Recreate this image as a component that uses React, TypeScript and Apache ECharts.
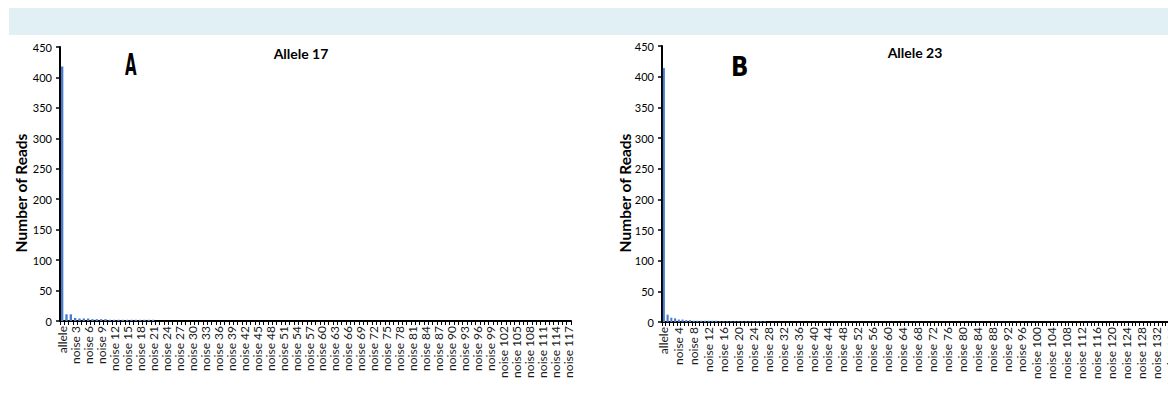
import React, { useEffect, useRef } from "react";
import * as echarts from "echarts";

// Panel A: Allele 17 — number of reads for the allele and noise 1..117
const allele17Reads = [
  418, 11, 11, 5, 4, 4, 4, 3, 3, 3, 3, 2, 2, 2, 2, 2, 2, 2, 2, 2, 2, 2,
  0, 0, 0, 0, 0, 0, 0, 0, 0, 0, 0, 0, 0, 0, 0, 0, 0, 0, 0, 0, 0, 0, 0, 0,
  0, 0, 0, 0, 0, 0, 0, 0, 0, 0, 0, 0, 0, 0, 0, 0, 0, 0, 0, 0, 0, 0, 0, 0,
  0, 0, 0, 0, 0, 0, 0, 0, 0, 0, 0, 0, 0, 0, 0, 0, 0, 0, 0, 0, 0, 0, 0, 0,
  0, 0, 0, 0, 0, 0, 0, 0, 0, 0, 0, 0, 0, 0, 0, 0, 0, 0, 0, 0, 0, 0, 0, 0,
];

// Panel B: Allele 23 — number of reads for the allele and noise 1..136
const allele23Reads = [
  414, 12, 7, 6, 4, 4, 3, 3, 2, 2, 2, 2, 2, 2, 2,
  1, 1, 1, 1, 1, 1, 1, 1, 1, 1, 1, 1, 1,
  0, 0, 0, 0, 0, 0, 0, 0, 0, 0,
  0, 0, 0, 0, 0, 0, 0, 0, 0, 0,
  0, 0, 0, 0, 0, 0, 0, 0, 0, 0,
  0, 0, 0, 0, 0, 0, 0, 0, 0, 0,
  0, 0, 0, 0, 0, 0, 0, 0, 0, 0,
  0, 0, 0, 0, 0, 0, 0, 0, 0, 0,
  0, 0, 0, 0, 0, 0, 0, 0, 0, 0,
  0, 0, 0, 0, 0, 0, 0, 0, 0, 0,
  0, 0, 0, 0, 0, 0, 0, 0, 0, 0,
  0, 0, 0, 0, 0, 0, 0, 0, 0, 0,
  0, 0, 0, 0, 0, 0, 0, 0, 0,
];

const categoriesA = allele17Reads.map((_, i) => (i === 0 ? "allele" : `noise ${i}`));
const categoriesB = allele23Reads.map((_, i) => (i === 0 ? "allele" : `noise ${i}`));

const titles = ["Allele 17", "Allele 23"];
const panelLetters = ["A", "B"];
const yAxisName = "Number of Reads";

const FONT = "Lato, 'Open Sans', sans-serif";
const BAR_COLOR = "#4a7ccc";

export default function App() {
  const ref = useRef<HTMLDivElement>(null);

  useEffect(() => {
    if (!ref.current) return;
    const chart = echarts.init(ref.current, undefined, { renderer: "svg" });

    const xAxisBase = (data: string[], labelInterval: number, gridIndex: number) => ({
      type: "category",
      gridIndex,
      data,
      boundaryGap: true,
      axisLine: { show: true, lineStyle: { color: "#000", width: 2 } },
      axisTick: { show: true, interval: 0, alignWithLabel: false, length: 4, lineStyle: { color: "#000", width: 1 } },
      axisLabel: {
        interval: labelInterval,
        rotate: 90,
        fontSize: 12,
        fontFamily: FONT,
        color: "#1a1a1a",
        margin: 5,
      },
      splitLine: { show: false },
    });

    const yAxisBase = (gridIndex: number) => ({
      type: "value",
      gridIndex,
      min: 0,
      max: 450,
      interval: 50,
      axisLine: { show: true, lineStyle: { color: "#000", width: 2 } },
      axisTick: { show: true, length: 4, lineStyle: { color: "#000", width: 1.5 } },
      axisLabel: { fontSize: 11, fontFamily: FONT, color: "#000", margin: 8 },
      splitLine: { show: false },
    });

    const yNameText = (x: number, y: number) => ({
      type: "text",
      x,
      y,
      rotation: Math.PI / 2,
      style: {
        text: yAxisName,
        font: `bold 15.5px ${FONT}`,
        fill: "#000",
        textAlign: "center",
        textVerticalAlign: "middle",
      },
    });

    chart.setOption({
      animation: false,
      backgroundColor: "#fff",
      title: [
        {
          text: titles[0],
          left: 296,
          top: 41,
          textAlign: "center",
          textStyle: { fontSize: 14, fontWeight: "bold", fontFamily: FONT, color: "#000" },
        },
        {
          text: titles[1],
          left: 910,
          top: 40,
          textAlign: "center",
          textStyle: { fontSize: 14, fontWeight: "bold", fontFamily: FONT, color: "#000" },
        },
      ],
      graphic: [
        {
          type: "rect",
          shape: { x: 9, y: 8, width: 1159, height: 27 },
          style: { fill: "#e1f0f5" },
          silent: true,
        },
        {
          type: "text",
          x: 125,
          y: 50,
          scaleX: 0.5,
          style: {
            text: panelLetters[0],
            font: "bold 30px 'DejaVu Sans'",
            fill: "#000",
            textAlign: "left",
            textVerticalAlign: "top",
          },
        },
        {
          type: "text",
          x: 731,
          y: 53,
          scaleX: 0.85,
          style: {
            text: panelLetters[1],
            font: "bold 27px 'DejaVu Sans'",
            fill: "#000",
            textAlign: "left",
            textVerticalAlign: "top",
          },
        },
        yNameText(21, 193),
        yNameText(625, 193),
      ],
      grid: [
        { left: 60, top: 47, width: 511, height: 274, containLabel: false, outerBoundsMode: "none" },
        { left: 662, top: 46, width: 511, height: 276, containLabel: false, outerBoundsMode: "none" },
      ],
      xAxis: [xAxisBase(categoriesA, 2, 0), xAxisBase(categoriesB, 3, 1)],
      yAxis: [yAxisBase(0), yAxisBase(1)],
      series: [
        {
          type: "bar",
          xAxisIndex: 0,
          yAxisIndex: 0,
          data: allele17Reads,
          barWidth: "55%",
          itemStyle: { color: BAR_COLOR },
        },
        {
          type: "bar",
          xAxisIndex: 1,
          yAxisIndex: 1,
          data: allele23Reads,
          barWidth: "55%",
          itemStyle: { color: BAR_COLOR },
        },
      ],
    });

    return () => chart.dispose();
  }, []);

  return (
    <div
      ref={ref}
      style={{ position: "absolute", left: 0, top: 0, width: 1168, height: 393 }}
    />
  );
}
